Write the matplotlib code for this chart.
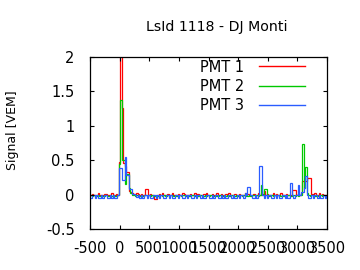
import numpy as np
import matplotlib
matplotlib.use("Agg")
import matplotlib.pyplot as plt

# FADC traces: 25 ns bins, first bin starts at t0
t0 = -517.0
dt = 25.0

pmt1 = [
    0.00, -0.01, 0.01, 0.00, -0.01, 0.00, 0.02, 0.00, -0.01, 0.00, 0.01, 0.01, -0.01, 0.00, 0.00, 0.02, 0.00, -0.01, 0.01, 0.00,
    0.48, 3.50, 1.26, 0.46, 0.42, 0.33, 0.33, 0.05, 0.04, 0.02, 0.01, 0.00, 0.02, 0.01, 0.00, 0.01, 0.00, -0.01, 0.08, 0.08,
    0.00, 0.01, 0.00, -0.01, -0.07, -0.07, 0.00, 0.01, 0.00, 0.02, 0.00, -0.01, 0.00, 0.01, 0.00, 0.00, 0.02, 0.00, -0.01, 0.00,
    0.01, 0.00, 0.00, 0.02, 0.01, 0.00, -0.01, 0.00, 0.01, 0.00, 0.00, 0.02, 0.00, 0.01, -0.01, 0.00, 0.00, 0.01, 0.00, 0.02,
    0.00, -0.01, 0.00, 0.01, 0.00, 0.00, 0.02, 0.00, -0.01, 0.01, 0.00, 0.00, 0.01, 0.00, 0.02, 0.00, -0.01, 0.00, 0.01, 0.00,
    0.00, 0.01, 0.00, -0.01, 0.00, 0.02, 0.00, 0.01, 0.00, -0.01, 0.00, 0.01, 0.00, 0.00, 0.02, 0.00, 0.00, 0.01, 0.05, 0.00,
    0.01, 0.00, -0.01, 0.00, 0.02, 0.00, 0.01, 0.00, 0.00, 0.03, 0.00, -0.01, 0.00, 0.01, 0.00, -0.01, 0.00, 0.07, 0.07, 0.07,
    0.00, 0.01, 0.00, 0.02, 0.20, 0.20, 0.20, 0.245, 0.245, 0.245, 0.01, 0.00, 0.03, 0.00, -0.01, 0.02, 0.00, 0.01, 0.00, -0.01,
    0.00,
]

pmt2 = [
    -0.02, -0.01, -0.02, -0.01, -0.02, -0.02, -0.01, -0.02, -0.01, -0.02, -0.02, -0.01, -0.02, -0.02, -0.01, -0.02, -0.01, -0.02, -0.02, -0.01,
    0.45, 1.375, 0.50, 0.50, 0.15, 0.30, 0.30, 0.10, 0.03, 0.00, -0.01, -0.02, -0.01, -0.01, -0.02, -0.01, -0.02, -0.01, -0.01, -0.02,
    -0.01, -0.02, -0.01, -0.02, -0.02, -0.01, -0.02, -0.01, -0.01, -0.02, -0.01, -0.02, -0.02, -0.01, -0.02, -0.01, -0.01, -0.02, -0.01, -0.02,
    -0.02, -0.01, -0.02, -0.01, -0.01, -0.02, -0.01, -0.02, -0.02, -0.01, -0.01, -0.02, -0.01, -0.02, -0.01, -0.01, -0.02, -0.02, -0.01, -0.02,
    -0.01, -0.02, -0.01, -0.01, -0.02, -0.01, -0.02, -0.02, -0.01, -0.01, -0.02, -0.01, -0.02, -0.01, -0.02, -0.02, -0.01, -0.01, -0.02, -0.01,
    -0.02, -0.01, -0.01, -0.02, -0.01, -0.02, -0.01, -0.02, -0.01, -0.02, -0.01, -0.01, -0.02, -0.01, -0.02, -0.01, 0.14, -0.01, 0.08, 0.08,
    -0.01, -0.02, -0.01, -0.01, -0.02, -0.01, -0.02, -0.01, -0.01, -0.02, -0.01, -0.02, -0.01, -0.02, -0.01, -0.01, -0.02, -0.01, -0.01, -0.02,
    -0.01, -0.02, -0.01, -0.01, 0.735, 0.10, 0.40, 0.02, -0.01, -0.02, -0.01, -0.01, -0.02, -0.01, -0.02, -0.01, -0.01, -0.02, -0.01, -0.02,
    -0.01,
]

pmt3 = [
    -0.045, -0.045, -0.01, -0.01, -0.045, -0.01, -0.045, -0.045, -0.01, -0.045, -0.01, -0.01, -0.045, -0.045, -0.01, -0.045, -0.01, -0.045, -0.045, -0.01,
    0.38, 0.38, 0.21, 0.21, 0.55, 0.28, 0.28, 0.08, 0.08, 0.01, 0.01, -0.01, -0.03, -0.01, -0.045, -0.01, -0.045, -0.01, -0.01, -0.045,
    -0.01, -0.045, -0.045, -0.01, -0.01, -0.045, -0.01, -0.045, -0.01, -0.01, -0.045, -0.045, -0.01, -0.01, -0.045, -0.01, -0.045, -0.045, -0.01, -0.01,
    -0.045, -0.01, -0.01, -0.045, -0.045, -0.01, -0.045, -0.01, -0.01, -0.045, -0.045, -0.01, -0.045, -0.01, -0.01, -0.045, -0.01, -0.045, -0.045, -0.01,
    -0.01, -0.045, -0.045, -0.01, -0.045, -0.01, -0.01, -0.045, -0.045, -0.01, -0.045, -0.01, -0.045, -0.045, -0.01, -0.01, -0.045, -0.01, -0.045, -0.045,
    -0.01, -0.045, -0.01, -0.01, -0.045, 0.02, -0.01, 0.11, 0.11, -0.01, -0.045, -0.045, -0.01, -0.045, -0.01, 0.42, 0.42, -0.01, -0.045, -0.01,
    -0.045, -0.01, -0.01, -0.045, -0.045, -0.01, -0.045, -0.01, -0.045, -0.045, -0.01, -0.01, -0.045, -0.01, -0.045, -0.045, 0.165, -0.01, -0.045, -0.01,
    -0.01, 0.14, -0.01, 0.04, 0.04, 0.10, 0.275, -0.01, -0.045, -0.045, -0.01, -0.045, -0.01, -0.01, -0.045, -0.01, -0.045, -0.045, -0.01, -0.045,
    -0.01,
]

series = [("PMT 1", pmt1, "#ff0000"), ("PMT 2", pmt2, "#00c800"), ("PMT 3", pmt3, "#2a5cff")]

title = "LsId 1118 - DJ Monti"
ylabel = "Signal [VEM]"
xticks = [-500, 0, 500, 1000, 1500, 2000, 2500, 3000, 3500]
yticks = [-0.5, 0, 0.5, 1, 1.5, 2]

plt.rcParams["font.family"] = ["DejaVu Sans"]

fig = plt.figure(figsize=(3.6, 2.7), dpi=100)
ax = fig.add_axes([90 / 360, 1 - 229 / 270, 237 / 360, 172 / 270])

for name, vals, col in series:
    edges = t0 + dt * np.arange(len(vals) + 1)
    ax.stairs(vals, edges, baseline=None, color=col, lw=0.9, label=name)

ax.set_xlim(-500, 3500)
ax.set_ylim(-0.5, 2)
ax.set_xticks(xticks)
ax.set_yticks(yticks)
ax.set_xticklabels([str(v) for v in xticks])
ax.set_yticklabels([("%g" % v) for v in yticks])
ax.tick_params(direction="in", length=3, width=0.8, top=True, right=True,
               labelsize=10.5, colors="black")
ax.tick_params(axis="x", pad=8.5)
ax.tick_params(axis="y", pad=11)
for s in ax.spines.values():
    s.set_linewidth(0.9)

fig.text(217 / 360, 1 - 27 / 270, title, ha="center", va="center", fontsize=10.2)
fig.text(13 / 360, 1 - 130 / 270, ylabel, ha="center", va="center", rotation=90, fontsize=9)

leg = ax.legend(loc="upper right", bbox_to_anchor=((305 - 90) / 237, 0.985), frameon=False,
                markerfirst=False, fontsize=10.5, handlelength=3.15, handletextpad=1.0,
                labelspacing=0.3, borderpad=0, borderaxespad=0)
for h in leg.get_lines():
    h.set_linewidth(1.0)

fig.savefig("out.png", dpi=100)
